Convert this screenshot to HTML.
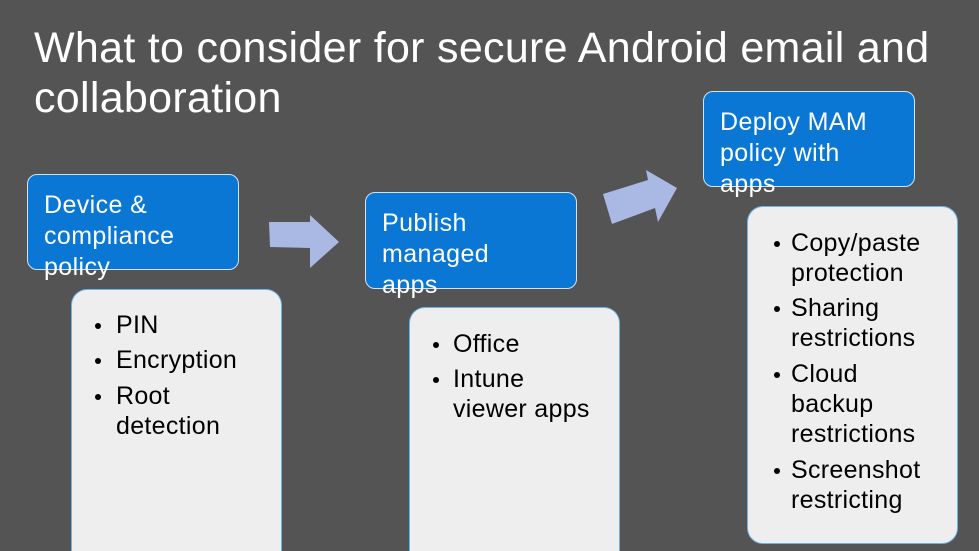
<!DOCTYPE html>
<html style="margin:0;width:979px;height:551px;overflow:hidden"><head><style>
body{margin:0;width:979px;height:551px;background:#545454;position:relative;overflow:hidden;font-family:"Liberation Sans",sans-serif}
.t{position:absolute;color:#fff;font-size:43px;letter-spacing:0.3px;left:34px;white-space:nowrap}
.b{position:absolute;background:#0a77d5;border:1px solid #cfe3f5;border-radius:10px;box-sizing:border-box}
.bt{position:absolute;color:#fff;font-size:25px;line-height:31px;white-space:nowrap;letter-spacing:0.4px}
.g{position:absolute;background:#eeeeee;border:1.5px solid #6ab4e8;border-radius:16px;box-sizing:border-box}
.l{position:absolute;color:#000;font-size:25px;line-height:30px;white-space:nowrap;letter-spacing:0.3px}
.d{position:absolute;width:6px;height:6px;border-radius:50%;background:#000}
</style></head><body>
<div class="t" style="top:24px">What to consider for secure Android email and</div>
<div class="t" style="top:74px">collaboration</div>

<div class="b" style="left:27px;top:174px;width:212px;height:96px"></div>
<div class="bt" style="left:44px;top:190px">Device &amp;<br>compliance<br>policy</div>
<div class="g" style="left:71px;top:289px;width:211px;height:262px;border-bottom:none;border-radius:16px 16px 0 0"></div>
<div class="l" style="left:116px;top:310px">PIN</div>
<div class="l" style="left:116px;top:345px">Encryption</div>
<div class="l" style="left:116px;top:381px">Root<br>detection</div>
<div class="d" style="left:95px;top:323px"></div><div class="d" style="left:95px;top:358px"></div><div class="d" style="left:95px;top:394px"></div>

<svg style="position:absolute;left:0;top:0" width="979" height="551">
<polygon points="269,222 310,222 310,215 339,242 310,268 310,248 270,247" fill="#a9b9e3"/>
<polygon points="603,194 648,180 646,170 677,188 658,222 655,208 612,224" fill="#a9b9e3"/>
</svg>

<div class="b" style="left:365px;top:192px;width:212px;height:97px"></div>
<div class="bt" style="left:382px;top:208px">Publish<br>managed<br>apps</div>
<div class="g" style="left:409px;top:307px;width:211px;height:244px;border-bottom:none;border-radius:16px 16px 0 0"></div>
<div class="l" style="left:453px;top:329px">Office</div>
<div class="l" style="left:453px;top:364px">Intune<br>viewer apps</div>
<div class="d" style="left:433px;top:342px"></div><div class="d" style="left:433px;top:377px"></div>

<div class="b" style="left:703px;top:91px;width:212px;height:96px"></div>
<div class="bt" style="left:720px;top:107px">Deploy MAM<br>policy with<br>apps</div>
<div class="g" style="left:747px;top:206px;width:211px;height:338px"></div>
<div class="l" style="left:791px;top:228px">Copy/paste<br>protection</div>
<div class="l" style="left:791px;top:293px">Sharing<br>restrictions</div>
<div class="l" style="left:791px;top:359px">Cloud<br>backup<br>restrictions</div>
<div class="l" style="left:791px;top:455px">Screenshot<br>restricting</div>
<div class="d" style="left:774px;top:241px"></div><div class="d" style="left:774px;top:306px"></div><div class="d" style="left:774px;top:372px"></div><div class="d" style="left:774px;top:468px"></div>
</body></html>
